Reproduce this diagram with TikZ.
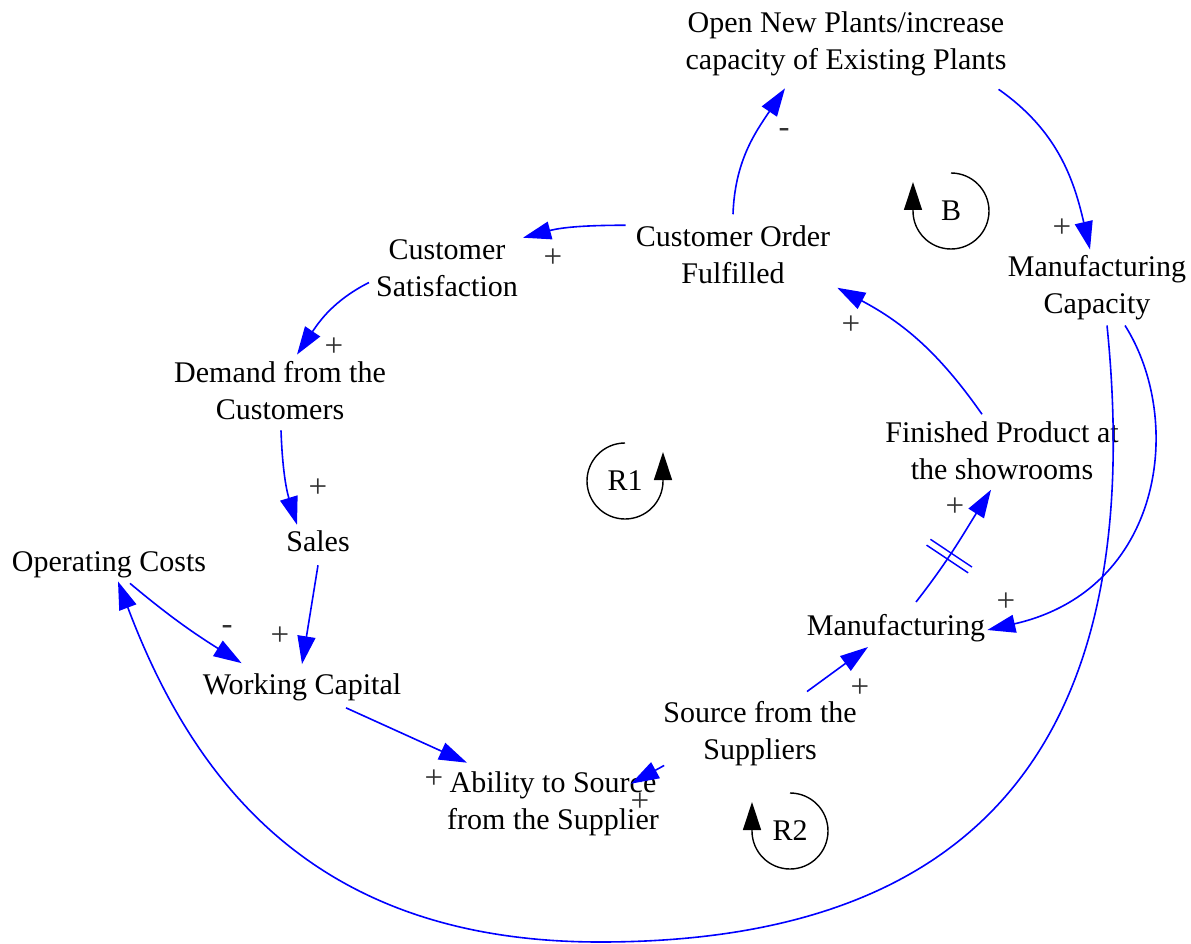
\documentclass[tikz,border=0pt]{standalone}
\usepackage{fontspec}
\setmainfont{Liberation Serif}
\usetikzlibrary{arrows.meta}
\usetikzlibrary{decorations.markings}
\tikzstyle{varnode} = [font=\fontsize{30}{37}\selectfont, align=center, inner sep=3pt]
\tikzstyle{causal} = [draw=blue, line width=1.6pt, ->]
\tikzstyle{polarity} = [font=\fontsize{33}{35}\selectfont, text=black!80, inner sep=0pt]
\tikzstyle{loopmark} = [draw=black, line width=1.4pt, ->]
\tikzstyle{delaymark} = [postaction={decorate}, decoration={markings, mark=at position 0.42 with {\draw[-, blue, line width=1.4pt] (-3.5pt,-25pt) -- (-3.5pt,25pt) (3.5pt,-25pt) -- (3.5pt,25pt);}}]
\tikzset{>={Triangle[length=28pt,width=18pt]}}

\begin{document}
\begin{tikzpicture}[x=1pt, y=1pt]
  \useasboundingbox (0,0) rectangle (1191,-944);
  % Variables
  \node[varnode] (openplants) at (846,-44) {Open New Plants/increase\\capacity of Existing Plants};
  \node[varnode] (orderfill) at (733,-254.5) {Customer Order\\Fulfilled};
  \node[varnode] (satisfaction) at (447,-268.5) {Customer\\Satisfaction};
  \node[varnode] (demand) at (280,-391) {Demand from the\\Customers};
  \node[varnode] (sales) at (318,-541.5) {Sales};
  \node[varnode] (opcost) at (109,-565) {Operating Costs};
  \node[varnode] (wcap) at (302,-687) {Working Capital};
  \node[varnode] (ability) at (553,-804) {Ability to Source\\from the Supplier};
  \node[varnode] (source) at (760,-734) {Source from the\\Suppliers};
  \node[varnode] (mfg) at (896,-628) {Manufacturing};
  \node[varnode] (finished) at (1002,-450.5) {Finished Product at\\the showrooms};
  \node[varnode] (mfgcap) at (1097,-288) {Manufacturing\\Capacity};
  % Links
  \draw[causal] ([yshift=8pt]orderfill.north) to[out=88, in=-124] ([xshift=-61pt, yshift=-9pt]openplants.south);
  \draw[causal] ([xshift=-11pt, yshift=-10pt]openplants.south east) to[out=-35, in=103] ([xshift=-7pt, yshift=3pt]mfgcap.north);
  \draw[causal] ([xshift=-7pt, yshift=-3pt]orderfill.north west) to[out=180, in=15] ([xshift=2pt, yshift=-1pt]satisfaction.north east);
  \draw[causal] ([xshift=-4pt, yshift=-14pt]satisfaction.west) to[out=207, in=56] ([xshift=17pt, yshift=4pt]demand.north);
  \draw[causal] ([xshift=1pt, yshift=-7pt]demand.south) to[out=-88, in=107] ([xshift=-21pt, yshift=3pt]sales.north);
  \draw[causal] ([yshift=-10pt]sales.south) -- ([yshift=6pt]wcap.north);
  \draw[causal] ([xshift=21pt, yshift=-2pt]opcost.south) to[out=-40, in=148] ([xshift=42pt, yshift=7pt]wcap.north west);
  \draw[causal] ([xshift=44pt, yshift=-4pt]wcap.south) -- ([xshift=23pt, yshift=6pt]ability.north west);
  \draw[causal] ([xshift=4pt, yshift=4pt]source.south west) -- ([xshift=-31pt, yshift=-15pt]ability.north east);
  \draw[causal] ([xshift=47pt, yshift=7pt]source.north) -- ([xshift=-28pt, yshift=-2pt]mfg.south);
  \draw[causal, delaymark] ([xshift=20pt, yshift=9pt]mfg.north) to[out=52, in=-122] ([xshift=-11pt, yshift=-7pt]finished.south);
  \draw[causal] ([xshift=-20pt, yshift=4pt]finished.north) to[out=125, in=-28] ([xshift=4pt, yshift=-1pt]orderfill.south east);
  \draw[causal] ([xshift=28pt, yshift=-2pt]mfgcap.south) .. controls +(60,-95) and +(176,40) .. ([xshift=-1pt, yshift=-2pt]mfg.east);
  \draw[causal] ([xshift=10pt, yshift=-2pt]mfgcap.south) .. controls +(44,-435) and +(360,0) .. (600,-942)
    .. controls +(-270,0) and +(82,-218) .. ([xshift=9pt]opcost.south);
  % Polarities
  \foreach \x/\y/\s [count=\i] in {784/133/-, 1062/228/+, 553/258/+, 334/347/+, 318/488/+, 280/636/+, 227/630/-,
    434/779/+, 640/802/+, 860/688/+, 955/507/+, 851/325/+, 1006/602/+} {
    \node[polarity] (sign\i) at (\x,-\y) {\s};
  }
  % Loop markers
  \draw[loopmark] (951,-173) arc[start angle=90, end angle=-180, radius=38] -- ++(0,29);
  \node[varnode] (loopB) at (951,-211) {B};
  \draw[loopmark] (625,-443) arc[start angle=90, end angle=360, radius=38] -- ++(0,29);
  \node[varnode] (loopR1) at (625,-481) {R1};
  \draw[loopmark] (790,-793) arc[start angle=90, end angle=-180, radius=38] -- ++(0,29);
  \node[varnode] (loopR2) at (790,-831) {R2};
\end{tikzpicture}
\end{document}
